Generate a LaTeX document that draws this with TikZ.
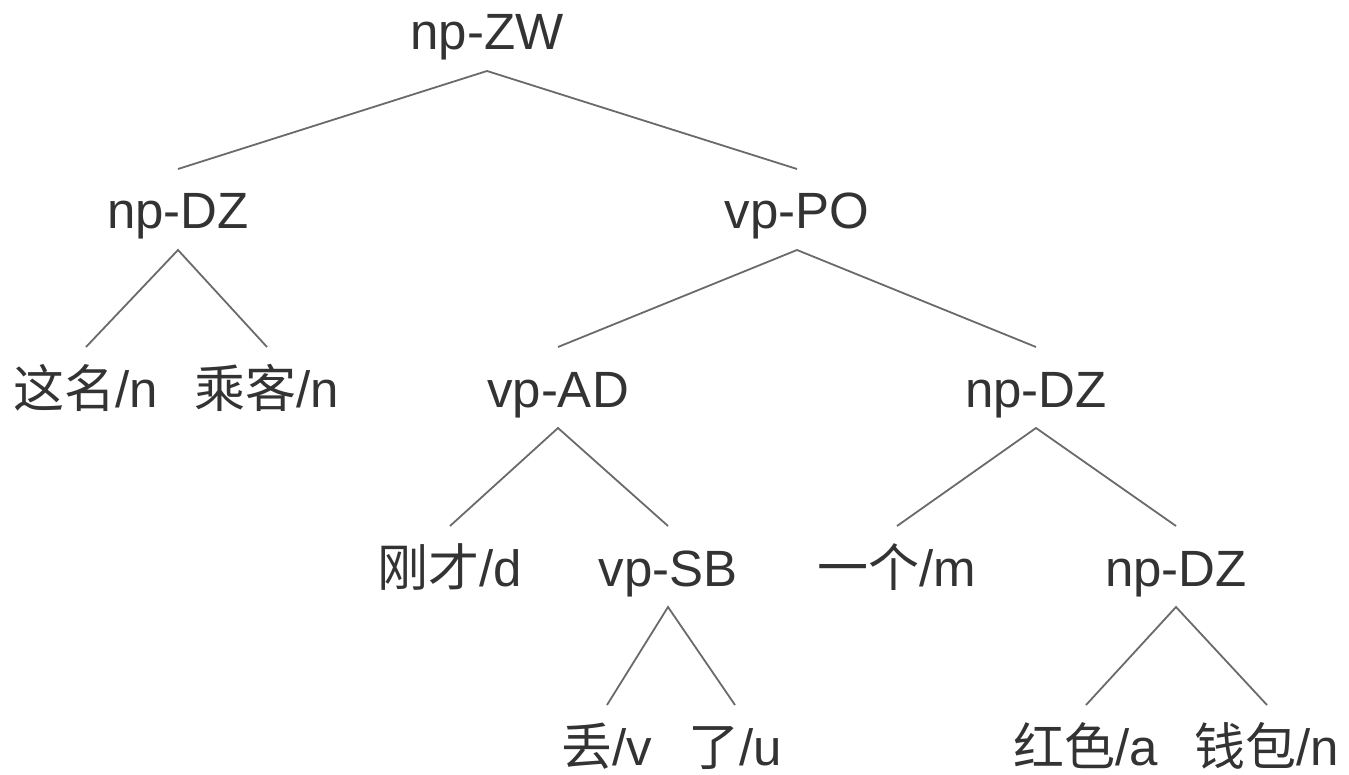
\documentclass[tikz,border=0pt]{standalone}
\usepackage{fontspec}
\setmainfont{Liberation Sans}
\newfontfamily\cjk{Noto Sans CJK SC}
\definecolor{txt}{HTML}{333333}
\definecolor{edge}{HTML}{6A6A6A}
\begin{document}
\begin{tikzpicture}[x=1pt,y=-1pt,
  lab/.style={anchor=base,inner sep=0pt,outer sep=0pt,text height=60pt,text depth=21pt,
    text=txt,font=\fontsize{51}{60}\selectfont},
  br/.style={draw=edge,line width=1.8pt}]
\useasboundingbox (0,0) rectangle (1349,775);
% row 1
\node[lab] (zw) at (487,50) {np-ZW};
% row 2
\node[lab] (dz1) at (178,229) {np-DZ};
\node[lab] (po) at (797,229) {vp-PO};
% row 3
\node[lab] (zm) at (86,407) {{\cjk 这名}/n};
\node[lab] (ck) at (267,407) {{\cjk 乘客}/n};
\node[lab] (ad) at (558,407) {vp-AD};
\node[lab] (dz2) at (1036,407) {np-DZ};
% row 4
\node[lab] (gc) at (450,586) {{\cjk 刚才}/d};
\node[lab] (sb) at (668,586) {vp-SB};
\node[lab] (yg) at (897,586) {{\cjk 一个}/m};
\node[lab] (dz3) at (1176,586) {np-DZ};
% row 5
\node[lab] (diu) at (607,765) {{\cjk 丢}/v};
\node[lab] (le) at (735,765) {{\cjk 了}/u};
\node[lab] (hs) at (1086,765) {{\cjk 红色}/a};
\node[lab] (qb) at (1267,765) {{\cjk 钱包}/n};
% branches
\draw[br] (dz1.north) -- (zw.south) -- (po.north);
\draw[br] (zm.north) -- (dz1.south) -- (ck.north);
\draw[br] (ad.north) -- (po.south) -- (dz2.north);
\draw[br] (gc.north) -- (ad.south) -- (sb.north);
\draw[br] (yg.north) -- (dz2.south) -- (dz3.north);
\draw[br] (diu.north) -- (sb.south) -- (le.north);
\draw[br] (hs.north) -- (dz3.south) -- (qb.north);
\end{tikzpicture}
\end{document}
